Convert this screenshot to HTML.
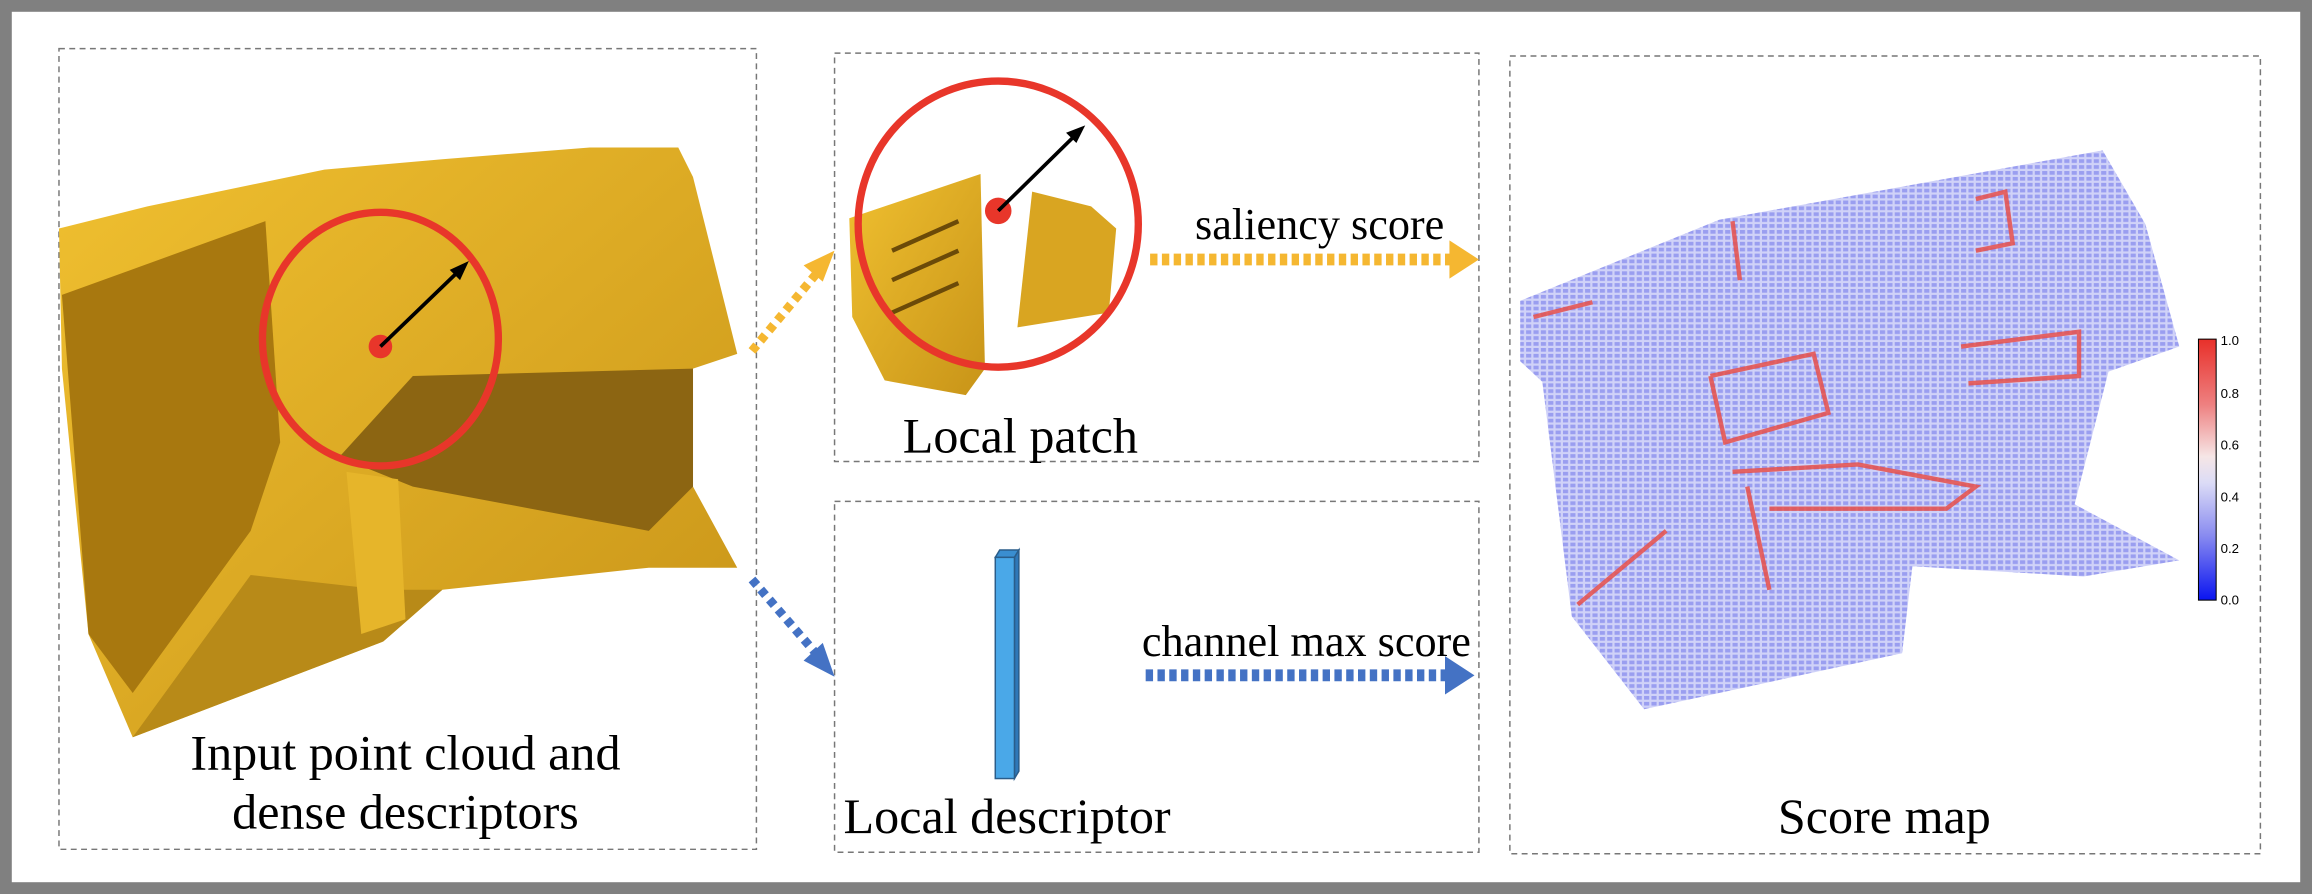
<!DOCTYPE html>
<html><head><meta charset="utf-8"><style>
html,body{margin:0;padding:0;background:#fff}
svg{display:block}
text{font-family:"Liberation Serif",serif;fill:#000}
</style></head><body>
<svg width="2312" height="894" viewBox="0 0 1568 606.3" preserveAspectRatio="none" xmlns="http://www.w3.org/2000/svg">
<defs>
<linearGradient id="cb" x1="0" y1="0" x2="0" y2="1">
<stop offset="0" stop-color="#e8302a"/><stop offset="0.25" stop-color="#ee8080"/>
<stop offset="0.45" stop-color="#f6e6e6"/><stop offset="0.55" stop-color="#dcdcf6"/>
<stop offset="0.75" stop-color="#8a8cf0"/><stop offset="1" stop-color="#0a14f0"/></linearGradient>
<pattern id="dots" width="5" height="4" patternUnits="userSpaceOnUse">
<rect width="5" height="4" fill="#d0d2f8"/><rect x="0" y="0" width="3.5" height="2.5" fill="#9a9ef0"/></pattern>
<linearGradient id="gold" x1="0" y1="0" x2="1" y2="1">
<stop offset="0" stop-color="#f0c030"/><stop offset="1" stop-color="#c89418"/></linearGradient>
</defs>
<rect x="4" y="4" width="1560" height="598.3" fill="none" stroke="#808080" stroke-width="8"/>
<g fill="none" stroke="#777" stroke-width="1" stroke-dasharray="4 3">
<rect x="40" y="33" width="473" height="543"/>
<rect x="566" y="36" width="437" height="277"/>
<rect x="566" y="340" width="437" height="238"/>
<rect x="1024" y="38" width="509" height="541"/>
</g>
<polygon points="40,155 100,140 220,115 300,108 400,100 460,100 470,120 500,240 470,250 470,330 500,385 440,385 300,400 260,435 90,500 60,430 42,250" fill="url(#gold)"/>
<polygon points="42,200 180,150 190,300 170,360 90,470 60,430" fill="#a8780f"/>
<polygon points="230,310 280,255 470,250 470,330 440,360 280,330" fill="#8c6512"/>
<polygon points="90,500 170,390 260,400 300,400 260,435" fill="#b88a18"/>
<polygon points="235,320 270,325 275,420 245,430" fill="#e6b52a"/>
<ellipse cx="258" cy="230" rx="80" ry="86" fill="none" stroke="#e8362a" stroke-width="5"/>
<circle cx="258" cy="235" r="8" fill="#e8362a"/>
<line x1="258" y1="235" x2="313" y2="182" stroke="#000" stroke-width="2.5"/>
<polygon points="318,177 305,183 312,190" fill="#000"/>
<polygon points="576,148 665,118 668,250 655,268 600,258 578,215" fill="url(#gold)"/>
<polygon points="700,130 740,140 757,155 752,212 690,222" fill="#d9a521"/>
<g stroke="#6b4a08" stroke-width="3"><line x1="605" y1="170" x2="650" y2="150"/><line x1="605" y1="190" x2="650" y2="170"/><line x1="605" y1="212" x2="650" y2="192"/></g>
<ellipse cx="677" cy="152" rx="95" ry="97" fill="none" stroke="#e8362a" stroke-width="5"/>
<circle cx="677" cy="143" r="9" fill="#e8362a"/>
<line x1="677" y1="143" x2="731" y2="90" stroke="#000" stroke-width="2.5"/>
<polygon points="736,85 723,90 730,97" fill="#000"/>
<line x1="510" y1="238" x2="555" y2="184" stroke="#f5b731" stroke-width="6" stroke-dasharray="5 4"/>
<polygon points="566,170 545,180 558,191" fill="#f5b731"/>
<line x1="780" y1="176" x2="985" y2="176" stroke="#f5b731" stroke-width="8" stroke-dasharray="5 3"/>
<polygon points="983,163 1003,176 983,189" fill="#f5b731"/>
<line x1="510" y1="393" x2="555" y2="445" stroke="#4472c4" stroke-width="6" stroke-dasharray="5 4"/>
<polygon points="566,459 545,448 558,436" fill="#4472c4"/>
<line x1="777" y1="458" x2="982" y2="458" stroke="#4472c4" stroke-width="8" stroke-dasharray="5 3"/>
<polygon points="980,445 1000,458 980,471" fill="#4472c4"/>
<polygon points="675,378 678,373 691,373 688,378" fill="#3a8ed0" stroke="#2a5d8a" stroke-width="1"/>
<polygon points="688,378 691,373 691,523 688,528" fill="#2f78b8" stroke="#2a5d8a" stroke-width="1"/>
<rect x="675" y="378" width="13" height="150" fill="#4aa8e8" stroke="#2a5d8a" stroke-width="1"/>
<polygon points="1031,204 1166,149 1426,102 1455,152 1478,235 1430,252 1407,342 1478,380 1413,391 1297,384 1290,443 1115,481 1066,418 1046,259 1031,245" fill="url(#dots)"/>
<g stroke="#e8504a" stroke-width="3" fill="none" opacity="0.85">
<polyline points="1160,255 1230,240 1240,280 1170,300 1160,255"/>
<polyline points="1175,320 1260,315 1340,330 1320,345 1200,345"/>
<line x1="1070" y1="410" x2="1130" y2="360"/>
<polyline points="1330,235 1410,225 1410,255 1335,260"/>
<line x1="1185" y1="330" x2="1200" y2="400"/>
<line x1="1040" y1="215" x2="1080" y2="205"/>
<line x1="1175" y1="150" x2="1180" y2="190"/>
<polyline points="1340,135 1360,130 1365,165 1340,170"/>
</g>
<rect x="1491" y="230" width="12" height="177" fill="url(#cb)" stroke="#000" stroke-width="0.7"/>
<g font-size="9">
<text x="1506" y="234" style="font-family:'Liberation Sans',sans-serif">1.0</text>
<text x="1506" y="270" style="font-family:'Liberation Sans',sans-serif">0.8</text>
<text x="1506" y="305" style="font-family:'Liberation Sans',sans-serif">0.6</text>
<text x="1506" y="340" style="font-family:'Liberation Sans',sans-serif">0.4</text>
<text x="1506" y="375" style="font-family:'Liberation Sans',sans-serif">0.2</text>
<text x="1506" y="410" style="font-family:'Liberation Sans',sans-serif">0.0</text>
</g>
<text x="275" y="522" font-size="34" text-anchor="middle">Input point cloud and</text>
<text x="275" y="562" font-size="34" text-anchor="middle">dense descriptors</text>
<text x="692" y="307" font-size="34" text-anchor="middle">Local patch</text>
<text x="895" y="162" font-size="30" text-anchor="middle">saliency score</text>
<text x="886" y="445" font-size="30" text-anchor="middle">channel max score</text>
<text x="683" y="565" font-size="34" text-anchor="middle">Local descriptor</text>
<text x="1278" y="565" font-size="34" text-anchor="middle">Score map</text>
</svg>
</body></html>
